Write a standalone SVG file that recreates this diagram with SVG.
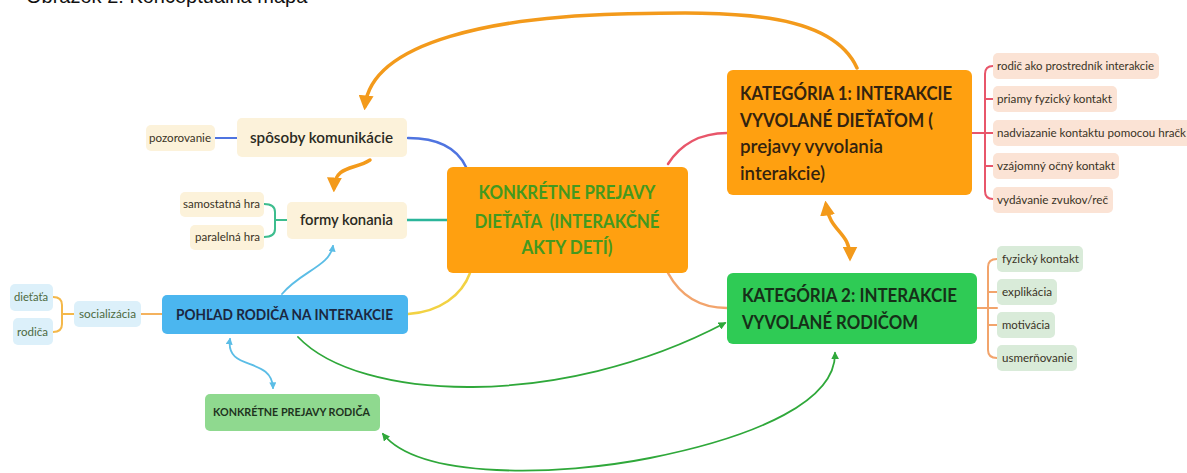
<svg xmlns="http://www.w3.org/2000/svg" width="1187" height="473" viewBox="0 0 1187 473">
<defs>
<style>
text{font-family:Lato,"Open Sans","DejaVu Sans",sans-serif}
.big{font-size:19px;font-weight:700;fill:#33230f}
.cen{font-size:18px;font-weight:700;fill:#43991f}
.mid{font-size:15px;font-weight:700;fill:#2a2a22}
.sm{font-size:11px;fill:#3a3325}
.cream{fill:#fcf2da}
.peach{fill:#fbe3d5}
.lgreen{fill:#d9ebd9}
.lblue{fill:#dcf0fa}
.conn{fill:none;stroke-linecap:round}
</style>
<marker id="ao" viewBox="0 0 10 10" refX="7" refY="5" markerWidth="15" markerHeight="15" markerUnits="userSpaceOnUse" orient="auto-start-reverse"><path d="M0,0 L10,5 L0,10 z" fill="#f39a1b"/></marker>
<marker id="ag" viewBox="0 0 10 10" refX="8" refY="5" markerWidth="8" markerHeight="8" markerUnits="userSpaceOnUse" orient="auto-start-reverse"><path d="M0,0 L10,5 L0,10 z" fill="#2fa83a"/></marker>
<marker id="ab" viewBox="0 0 10 10" refX="8" refY="5" markerWidth="7" markerHeight="7" markerUnits="userSpaceOnUse" orient="auto-start-reverse"><path d="M0,0 L10,5 L0,10 z" fill="#5bbde6"/></marker>
</defs>
<rect width="1187" height="473" fill="#ffffff"/>
<text x="26" y="3" style="font-family:'Liberation Sans',Arial,sans-serif;font-size:20px;fill:#111">Obrázok 2: Konceptuálna mapa</text>

<g id="connectors">
<path class="conn" d="M408,138 C440,138 458,150 466,167" stroke="#4f74e0" stroke-width="2.5"/>
<path class="conn" d="M407,220 H447" stroke="#2bb59a" stroke-width="2.5"/>
<path class="conn" d="M408,314 C440,312 462,295 470,273" stroke="#f2d243" stroke-width="2.5"/>
<path class="conn" d="M668,164 C680,145 700,133 727,133" stroke="#e8566a" stroke-width="2.5"/>
<path class="conn" d="M668,273 C680,295 700,308 727,308" stroke="#f2a46c" stroke-width="2.5"/>
<path class="conn" d="M215,138 H237" stroke="#4f74e0" stroke-width="2"/>
<path class="conn" d="M287,220 H275 M264,204 Q275,204 275,212 V229 Q275,237 264,237" stroke="#3dbd8e" stroke-width="2"/>
<path class="conn" d="M162,314 H141" stroke="#f4b25e" stroke-width="2"/>
<path class="conn" d="M74,314 H62 M53,297 Q62,297 62,305 V324 Q62,332 53,332" stroke="#f4b84a" stroke-width="2"/>
<path class="conn" d="M972,133 H993 M993,66 Q985,66 985,74 V191 Q985,199 993,199 M985,99 Q985,99 993,99 M985,166 H993" stroke="#e8566a" stroke-width="2"/>
<path class="conn" d="M977,308 H997 M997,259 Q988,259 988,267 V350 Q988,358 997,358 M988,292 H997 M988,325 H997" stroke="#f2a46c" stroke-width="2"/>
<path class="conn" d="M857,68 C830,8 720,12 620,14 C500,17 372,40 365,106" stroke="#f39a1b" stroke-width="3.5" marker-end="url(#ao)"/>
<path class="conn" d="M370,160 C355,170 335,165 334,188" stroke="#f39a1b" stroke-width="3.5" marker-end="url(#ao)"/>
<path class="conn" d="M826,205 C830,232 850,232 850,257" stroke="#f39a1b" stroke-width="3.5" marker-start="url(#ao)" marker-end="url(#ao)"/>
<path class="conn" d="M298,337 C360,402 560,410 725,323" stroke="#2fa83a" stroke-width="1.8" marker-end="url(#ag)"/>
<path class="conn" d="M383,434 C420,480 560,476 650,458 C760,436 836,400 835,353" stroke="#2fa83a" stroke-width="1.8" marker-start="url(#ag)" marker-end="url(#ag)"/>
<path class="conn" d="M282,294 C300,272 330,266 333,246" stroke="#5bbde6" stroke-width="1.8" marker-end="url(#ab)"/>
<path class="conn" d="M230,339 C225,372 272,356 273,388" stroke="#5bbde6" stroke-width="1.8" marker-start="url(#ab)" marker-end="url(#ab)"/>
</g>

<g id="central">
<rect x="447" y="167" width="241" height="106" rx="6" fill="#ffa010"/>
<text class="cen" x="567" y="199" text-anchor="middle" textLength="177" lengthAdjust="spacingAndGlyphs">KONKRÉTNE PREJAVY</text>
<text class="cen" x="567" y="228" text-anchor="middle" textLength="185" lengthAdjust="spacingAndGlyphs" xml:space="preserve">DIEŤAŤA  (INTERAKČNÉ</text>
<text class="cen" x="567" y="254" text-anchor="middle" textLength="91" lengthAdjust="spacingAndGlyphs">AKTY DETÍ)</text>
</g>

<g id="kat1">
<rect x="727" y="70" width="245" height="125" rx="6" fill="#ffa010"/>
<text class="big" x="740" y="100" textLength="212" lengthAdjust="spacingAndGlyphs">KATEGÓRIA 1: INTERAKCIE</text>
<text class="big" x="740" y="127" textLength="193" lengthAdjust="spacingAndGlyphs">VYVOLANÉ DIEŤAŤOM (</text>
<text class="big" x="740" y="153" textLength="143" lengthAdjust="spacingAndGlyphs" style="font-weight:600">prejavy vyvolania</text>
<text class="big" x="740" y="180" textLength="85" lengthAdjust="spacingAndGlyphs" style="font-weight:600">interakcie)</text>
</g>

<g id="kat2">
<rect x="727" y="273" width="250" height="71" rx="6" fill="#2fcb55"/>
<text class="big" x="742" y="302" textLength="215" lengthAdjust="spacingAndGlyphs" style="fill:#163018">KATEGÓRIA 2: INTERAKCIE</text>
<text class="big" x="742" y="329" textLength="176" lengthAdjust="spacingAndGlyphs" style="fill:#163018">VYVOLANÉ RODIČOM</text>
</g>

<g id="k1-a"><rect class="peach" x="993" y="53" width="166" height="26" rx="5"/><text class="sm" x="997" y="70" textLength="157" lengthAdjust="spacingAndGlyphs">rodič ako prostredník interakcie</text></g>
<g id="k1-b"><rect class="peach" x="993" y="86" width="124" height="26" rx="5"/><text class="sm" x="997" y="103" textLength="115" lengthAdjust="spacingAndGlyphs">priamy fyzický kontakt</text></g>
<g id="k1-c"><rect class="peach" x="993" y="120" width="200" height="26" rx="5"/><text class="sm" x="997" y="137" textLength="189" lengthAdjust="spacingAndGlyphs">nadviazanie kontaktu pomocou hračk</text></g>
<g id="k1-d"><rect class="peach" x="993" y="153" width="126" height="26" rx="5"/><text class="sm" x="997" y="170" textLength="118" lengthAdjust="spacingAndGlyphs">vzájomný očný kontakt</text></g>
<g id="k1-e"><rect class="peach" x="993" y="187" width="120" height="26" rx="5"/><text class="sm" x="997" y="204" textLength="111" lengthAdjust="spacingAndGlyphs">vydávanie zvukov/reč</text></g>

<g id="k2-a"><rect class="lgreen" x="997" y="246" width="86" height="26" rx="5"/><text class="sm" x="1002" y="263" textLength="77" lengthAdjust="spacingAndGlyphs">fyzický kontakt</text></g>
<g id="k2-b"><rect class="lgreen" x="997" y="279" width="60" height="26" rx="5"/><text class="sm" x="1002" y="296" textLength="50" lengthAdjust="spacingAndGlyphs">explikácia</text></g>
<g id="k2-c"><rect class="lgreen" x="997" y="312" width="58" height="26" rx="5"/><text class="sm" x="1002" y="329" textLength="48" lengthAdjust="spacingAndGlyphs">motivácia</text></g>
<g id="k2-d"><rect class="lgreen" x="997" y="345" width="80" height="26" rx="5"/><text class="sm" x="1002" y="362" textLength="71" lengthAdjust="spacingAndGlyphs">usmerňovanie</text></g>

<g id="sposoby"><rect class="cream" x="237" y="118" width="170" height="39" rx="5"/><text class="mid" x="250" y="143" textLength="143" lengthAdjust="spacingAndGlyphs" style="font-weight:600">spôsoby komunikácie</text></g>
<g id="pozorovanie"><rect class="cream" x="146" y="125" width="69" height="26" rx="5"/><text class="sm" x="149" y="142" textLength="62" lengthAdjust="spacingAndGlyphs">pozorovanie</text></g>
<g id="formy"><rect class="cream" x="287" y="202" width="120" height="37" rx="5"/><text class="mid" x="300" y="225" textLength="93" lengthAdjust="spacingAndGlyphs" style="font-weight:600">formy konania</text></g>
<g id="samostatna"><rect class="cream" x="180" y="192" width="84" height="25" rx="5"/><text class="sm" x="183" y="208" textLength="77" lengthAdjust="spacingAndGlyphs">samostatná hra</text></g>
<g id="paralelna"><rect class="cream" x="190" y="225" width="74" height="25" rx="5"/><text class="sm" x="195" y="241" textLength="65" lengthAdjust="spacingAndGlyphs">paralelná hra</text></g>

<g id="pohlad"><rect x="162" y="295" width="246" height="39" rx="5" fill="#4bb6ef"/><text class="mid" x="176" y="320" textLength="217" lengthAdjust="spacingAndGlyphs" style="fill:#1b2740">POHĽAD RODIČA NA INTERAKCIE</text></g>
<g id="socializacia"><rect class="lblue" x="74" y="301" width="67" height="26" rx="5"/><text class="sm" x="79" y="318" textLength="57" lengthAdjust="spacingAndGlyphs" style="fill:#4d6a3e">socializácia</text></g>
<g id="dietata"><rect class="lblue" x="10" y="284" width="43" height="27" rx="5"/><text class="sm" x="14" y="301" textLength="34" lengthAdjust="spacingAndGlyphs" style="fill:#4d6a3e">dieťaťa</text></g>
<g id="rodica"><rect class="lblue" x="13" y="318" width="40" height="27" rx="5"/><text class="sm" x="17" y="336" textLength="31" lengthAdjust="spacingAndGlyphs" style="fill:#4d6a3e">rodiča</text></g>

<g id="prejavy-rodica"><rect x="205" y="394" width="175" height="37" rx="5" fill="#8fd98f"/><text x="213" y="416" textLength="157" lengthAdjust="spacingAndGlyphs" style="font-size:11.5px;font-weight:700;fill:#1e331e">KONKRÉTNE PREJAVY RODIČA</text></g>
</svg>
